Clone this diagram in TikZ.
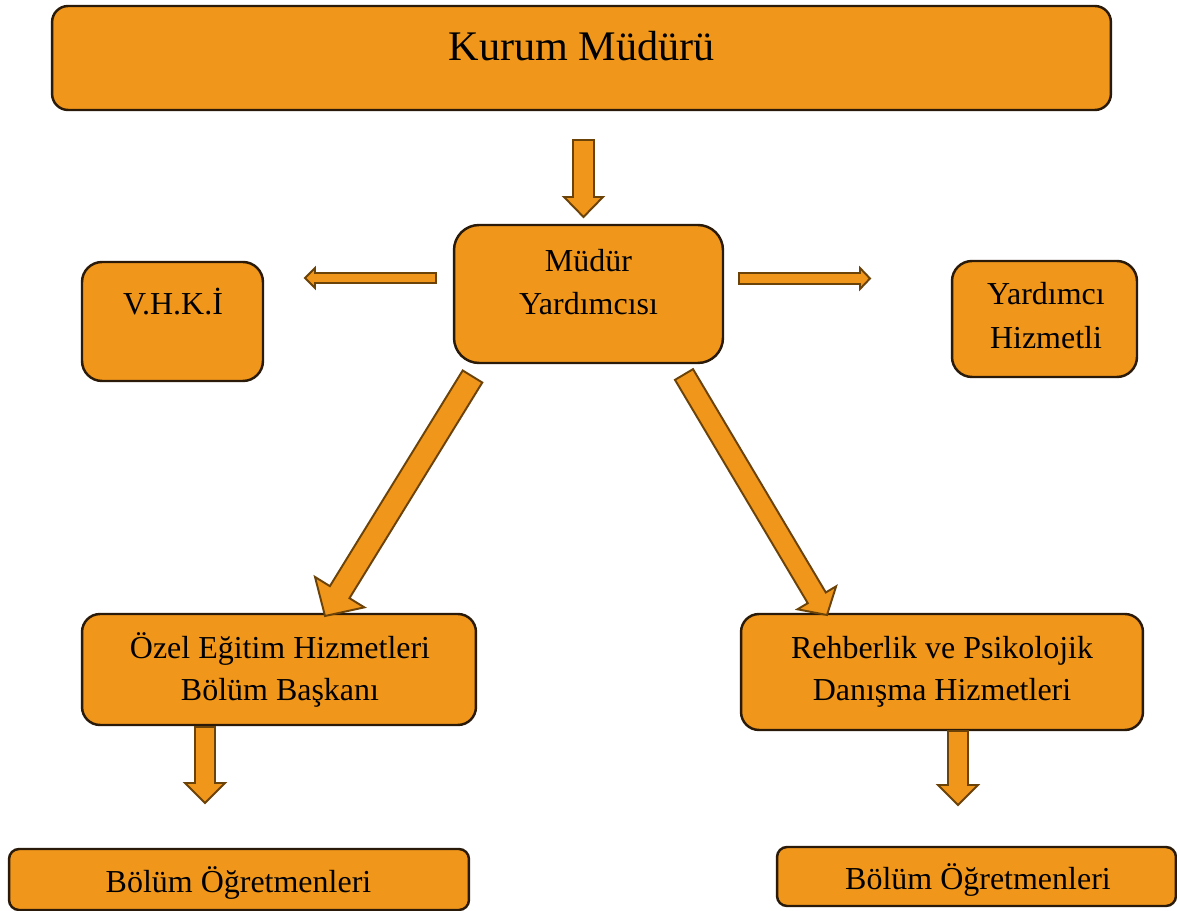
\documentclass[tikz,border=0pt]{standalone}
\usepackage{fontspec}
\setmainfont{Liberation Serif}
\usetikzlibrary{calc}
\definecolor{boxfill}{HTML}{F0961A}
\definecolor{boxline}{HTML}{2A1A0A}
\definecolor{arrline}{HTML}{6B4207}
\tikzset{
  box/.style={draw=boxline, fill=boxfill, line width=1.4pt, inner sep=0pt},
  txt/.style={anchor=base, inner sep=0pt, font=\fontsize{18.2pt}{24pt}\selectfont},
  bigtxt/.style={anchor=base, inner sep=0pt, font=\fontsize{24pt}{30pt}\selectfont},
  blockarr/.style={draw=arrline, fill=boxfill, line width=1.1pt},
}
% \barrow{tail}{tip}{shaft half width}{head half width}{head length}
\newcommand{\barrow}[5]{%
  \coordinate (hb) at ($(#2)!#5!(#1)$);
  \path[blockarr]
    ($(#1)!#3!90:(#2)$) -- ($(hb)!#3!-90:(#1)$) -- ($(hb)!#4!-90:(#1)$) -- (#2)
    -- ($(hb)!#4!90:(#1)$) -- ($(hb)!#3!90:(#1)$) -- ($(#1)!#3!-90:(#2)$) -- cycle;
}
\begin{document}
\begin{tikzpicture}[x=0.02cm, y=-0.02cm]
\useasboundingbox (0,0) rectangle (1177,911);

% boxes
\node[box, minimum width=21.18cm, minimum height=2.08cm, rounded corners=0.32cm] (kurum) at (581.5,58) {};
\node[box, minimum width=5.38cm, minimum height=2.76cm, rounded corners=0.5cm] (mv) at (588.5,294) {};
\node[box, minimum width=3.62cm, minimum height=2.38cm, rounded corners=0.4cm] (vhki) at (172.5,321.5) {};
\node[box, minimum width=3.70cm, minimum height=2.32cm, rounded corners=0.4cm] (yh) at (1044.5,319) {};
\node[box, minimum width=7.88cm, minimum height=2.22cm, rounded corners=0.36cm] (oz) at (279,669.5) {};
\node[box, minimum width=8.04cm, minimum height=2.32cm, rounded corners=0.36cm] (rh) at (942,672) {};
\node[box, minimum width=9.20cm, minimum height=1.22cm, rounded corners=0.2cm] (bl) at (239,879.5) {};
\node[box, minimum width=7.98cm, minimum height=1.18cm, rounded corners=0.2cm] (br) at (976.5,876.5) {};

% texts
\node[bigtxt] (tkurum) at (581.5,61) {Kurum Müdürü};
\node[txt] (tmv1) at (588.5,272) {Müdür};
\node[txt] (tmv2) at (588.5,315) {Yardımcısı};
\node[txt] (tvhki) at (173,315) {V.H.K.İ};
\node[txt] (tyh1) at (1046,305) {Yardımcı};
\node[txt] (tyh2) at (1046,349) {Hizmetli};
\node[txt] (toz1) at (280,659) {Özel Eğitim Hizmetleri};
\node[txt] (toz2) at (280,701) {Bölüm Başkanı};
\node[txt] (trh1) at (942,659) {Rehberlik ve Psikolojik};
\node[txt] (trh2) at (942,701) {Danışma Hizmetleri};
\node[txt] (tbl) at (238.5,892) {Bölüm Öğretmenleri};
\node[txt] (tbr) at (978,889) {Bölüm Öğretmenleri};

% arrow end points
\coordinate (a1t) at (583.5,140);  \coordinate (a1p) at (583.5,217);
\coordinate (a2t) at (436,278);    \coordinate (a2p) at (305,278);
\coordinate (a3t) at (739,278.5);  \coordinate (a3p) at (870,278.5);
\coordinate (a4t) at (472.5,376.5);\coordinate (a4p) at (325,616);
\coordinate (a5t) at (684,374.5);  \coordinate (a5p) at (827,615);
\coordinate (a6t) at (205,727);    \coordinate (a6p) at (205,803);
\coordinate (a7t) at (958,731);    \coordinate (a7p) at (958,805);

\barrow{a1t}{a1p}{0.21cm}{0.39cm}{0.40cm}
\barrow{a2t}{a2p}{0.10cm}{0.20cm}{0.20cm}
\barrow{a3t}{a3p}{0.11cm}{0.21cm}{0.20cm}
\barrow{a4t}{a4p}{0.23cm}{0.58cm}{0.56cm}
\barrow{a5t}{a5p}{0.21cm}{0.45cm}{0.40cm}
\barrow{a6t}{a6p}{0.20cm}{0.40cm}{0.40cm}
\barrow{a7t}{a7p}{0.20cm}{0.40cm}{0.40cm}
\end{tikzpicture}
\end{document}
